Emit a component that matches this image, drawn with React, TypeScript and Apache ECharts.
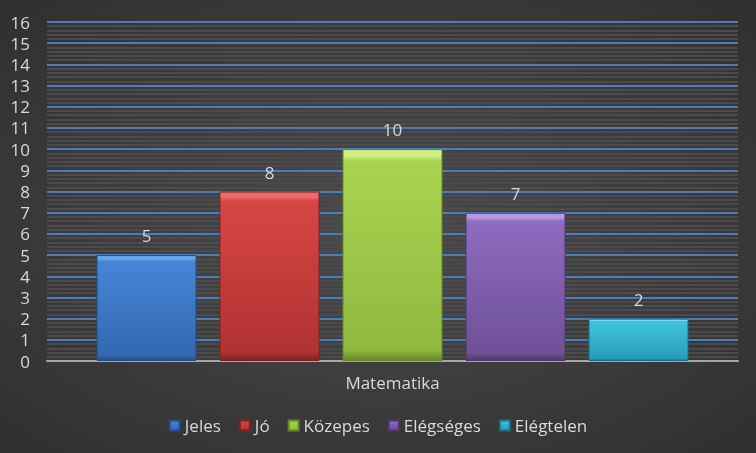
import React, { useEffect, useRef } from "react";
import * as echarts from "echarts";

const categories = ["Matematika"];
const seriesNames = ["Jeles", "Jó", "Közepes", "Elégséges", "Elégtelen"];
const seriesValues = [5, 8, 10, 7, 2];
const yTicks = { min: 0, max: 16, interval: 1 };

const palette = [
  { light: "#6aa6ea", top: "#4586d6", bottom: "#3468b2", border: "#254d85" },
  { light: "#ec6a6a", top: "#d84646", bottom: "#b03232", border: "#7e2222" },
  { light: "#d2f080", top: "#a8d452", bottom: "#8fb93e", border: "#66862a" },
  { light: "#b898e0", top: "#8e6cc0", bottom: "#6e5096", border: "#4e386c" },
  { light: "#7ce0f2", top: "#3fc4e0", bottom: "#279cb8", border: "#1a7086" },
];

const font = "'Open Sans', 'Noto Sans', sans-serif";
const textColor = "#d9d9d9";

export default function App() {
  const ref = useRef<HTMLDivElement>(null);
  useEffect(() => {
    if (!ref.current) return;
    const chart = echarts.init(ref.current, undefined, { renderer: "svg" });
    const series = seriesNames.map((name, i) => {
      const c = palette[i];
      return {
        name,
        type: "bar",
        data: [seriesValues[i]],
        barWidth: 100,
        barGap: "23%",
        itemStyle: {
          color: new echarts.graphic.LinearGradient(0, 0, 0, 1, [
            { offset: 0, color: c.light },
            { offset: 0.03, color: c.light },
            { offset: 0.055, color: c.top },
            { offset: 0.95, color: c.bottom },
            { offset: 1, color: c.border },
          ]),
          borderColor: c.border,
          borderWidth: 1,
        },
        label: {
          show: true,
          position: "top",
          distance: 11,
          color: textColor,
          fontSize: 17,
          fontFamily: font,
        },
      };
    });
    chart.setOption({
      animation: false,
      backgroundColor: new echarts.graphic.RadialGradient(0.5, 0.5, 0.8, [
        { offset: 0, color: "#4a4a4a" },
        { offset: 1, color: "#2c2c2c" },
      ]),
      grid: { left: 47, right: 18, top: 22, bottom: 92, containLabel: false },
      legend: {
        data: seriesNames,
        bottom: 14,
        left: "center",
        itemWidth: 10,
        itemHeight: 10,
        itemGap: 18,
        icon: "rect",
        textStyle: { color: textColor, fontSize: 17, fontFamily: font },
      },
      xAxis: {
        type: "category",
        data: categories,
        axisLine: { show: true, lineStyle: { color: "#a6a6a6", width: 2 } },
        axisTick: { show: false },
        axisLabel: { color: textColor, fontSize: 17, fontFamily: font, margin: 13 },
      },
      yAxis: {
        type: "value",
        min: yTicks.min,
        max: yTicks.max,
        interval: yTicks.interval,
        axisLine: { show: false },
        axisTick: { show: false },
        axisLabel: { color: textColor, fontSize: 17, fontFamily: font, margin: 17 },
        splitLine: { show: true, lineStyle: { color: "#4a7ebb", width: 2 } },
        minorTick: { show: false, splitNumber: 5 },
        minorSplitLine: { show: true, lineStyle: { color: "#4b4b4b", width: 2 } },
      },
      series,
    });
    return () => chart.dispose();
  }, []);
  return (
    <div
      ref={ref}
      style={{ position: "fixed", left: 0, top: 0, width: 756, height: 453 }}
    />
  );
}
